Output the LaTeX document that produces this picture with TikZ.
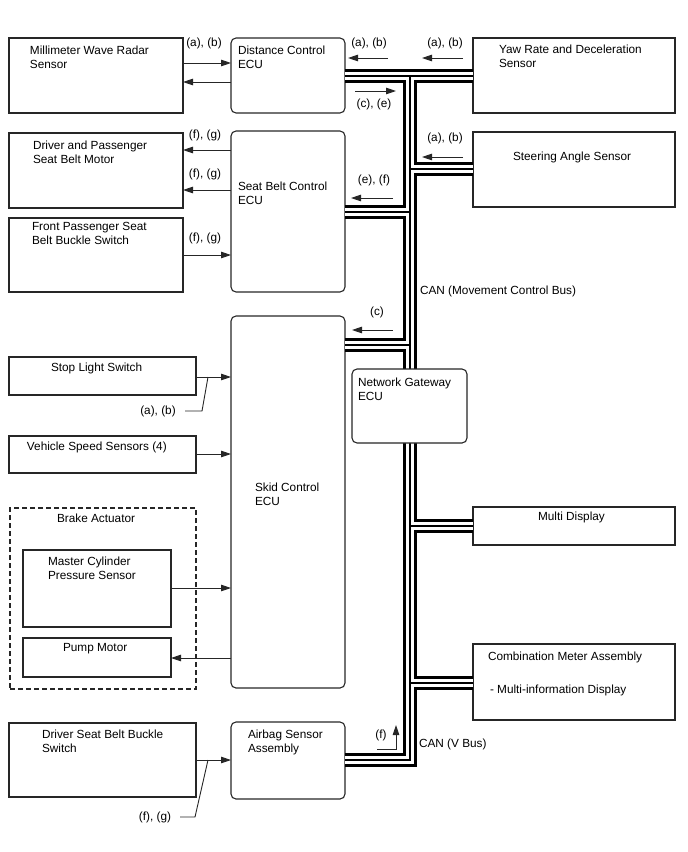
\documentclass[tikz,border=0pt]{standalone}
\usepackage{fontspec}
\setmainfont{Liberation Sans}
\usetikzlibrary{arrows.meta,calc}
\begin{document}
\begin{tikzpicture}[x=1pt,y=-1pt,
  every node/.style={font=\fontsize{11.8}{14}\selectfont, inner sep=0pt, outer sep=0pt},
  sbox/.style={draw=black!85, line width=1.1pt, rectangle, anchor=north west},
  ecu/.style={sbox, rounded corners=5pt},
  dbox/.style={sbox, dashed, dash pattern=on 5pt off 3pt},
  txt/.style={anchor=base west, align=left},
  lbl/.style={anchor=center},
  arr/.style={-{Triangle[length=10pt,width=6.5pt]}, line width=0.9pt, draw=black!85},
  wire/.style={line width=0.9pt, draw=black!85},
  busA/.style={line width=13.5pt, black},
  busB/.style={line width=7.5pt, white},
  busC/.style={line width=1.1pt, black}]
\useasboundingbox (0,0) rectangle (688,852);
% ---------- boxes ----------
\node[sbox, minimum width=174, minimum height=75] (mwr) at (9,38) {};
\node[ecu,  minimum width=114, minimum height=75] (dce) at (231,38) {};
\node[sbox, minimum width=202, minimum height=75] (yaw) at (473,38) {};
\node[sbox, minimum width=174, minimum height=75] (dpm) at (9,133) {};
\node[ecu,  minimum width=114, minimum height=161] (sbc) at (231,131) {};
\node[sbox, minimum width=202, minimum height=75] (sas) at (473,132) {};
\node[sbox, minimum width=174, minimum height=74] (fps) at (9,218) {};
\node[sbox, minimum width=187, minimum height=38] (sls) at (9,357) {};
\node[ecu,  minimum width=114, minimum height=372] (skid) at (231,316) {};
\node[sbox, minimum width=187, minimum height=37] (vss) at (9,436) {};
\node[dbox, minimum width=186, minimum height=181] (ba) at (10,508) {};
\node[sbox, minimum width=148, minimum height=77] (mcps) at (23,550) {};
\node[sbox, minimum width=148, minimum height=39] (pm) at (23,638) {};
\node[sbox, minimum width=202, minimum height=38] (md) at (473,507) {};
\node[sbox, minimum width=202, minimum height=76] (cm) at (473,644) {};
\node[sbox, minimum width=187, minimum height=74] (dsb) at (9,723) {};
\node[ecu,  minimum width=114, minimum height=77] (air) at (231,722) {};
% ---------- bus ----------
\coordinate (bt) at (410,76);
\coordinate (bc) at (410,760);
\coordinate (j1) at (410,169);
\coordinate (j2) at (410,212);
\coordinate (j3) at (410,345);
\coordinate (j4) at (410,526);
\coordinate (j5) at (410,683);
\foreach \st in {busA,busB,busC}{
  \draw[\st] (dce.east |- bt) -- (yaw.west |- bt);
  \draw[\st, line join=miter] (bt) -- (bc) -- (air.east |- bc);
  \draw[\st] (j1) -- (sas.west |- j1);
  \draw[\st] (sbc.east |- j2) -- (j2);
  \draw[\st] (skid.east |- j3) -- (j3);
  \draw[\st] (j4) -- (md.west |- j4);
  \draw[\st] (j5) -- (cm.west |- j5);
}
\node[ecu, fill=white, minimum width=115, minimum height=74] (gw) at (352,369) {};
% ---------- texts in boxes (base = last line) ----------
\node[txt] (mwrT) at (30,68) {Millimeter Wave Radar\\Sensor};
\node[txt] (dceT) at (238,68) {Distance Control\\ECU};
\node[txt] (yawT) at (499,67) {Yaw Rate and Deceleration\\Sensor};
\node[txt] (dpmT) at (33,163) {Driver and Passenger\\Seat Belt Motor};
\node[txt] (sbcT) at (238,204) {Seat Belt Control\\ECU};
\node[txt] (sasT) at (513,160) {Steering Angle Sensor};
\node[txt] (fpsT) at (32,244) {Front Passenger Seat\\Belt Buckle Switch};
\node[txt] (slsT) at (51,371) {Stop Light Switch};
\node[txt] (gwT) at (358,400) {Network Gateway\\ECU};
\node[txt] (vssT) at (27,450) {Vehicle Speed Sensors (4)};
\node[txt] (skidT) at (255,505) {Skid Control\\ECU};
\node[txt] (baT) at (57,522) {Brake Actuator};
\node[txt] (mdT) at (538,520) {Multi Display};
\node[txt] (mcpsT) at (48,579) {Master Cylinder\\Pressure Sensor};
\node[txt] (pmT) at (63,651) {Pump Motor};
\node[txt] (cmT) at (488,660) {Combination Meter Assembly};
\node[txt] (cmT2) at (490,693) {- Multi-information Display};
\node[txt] (dsbT) at (42,752) {Driver Seat Belt Buckle\\Switch};
\node[txt] (airT) at (248,752) {Airbag Sensor\\Assembly};
% ---------- wire arrows ----------
\draw[arr] (mwr.east |- 0,63) -- (dce.west |- 0,63);
\draw[arr] (dce.west |- 0,82) -- (mwr.east |- 0,82);
\draw[arr] (sbc.west |- 0,150) -- (dpm.east |- 0,150);
\draw[arr] (sbc.west |- 0,190) -- (dpm.east |- 0,190);
\draw[arr] (fps.east |- 0,255) -- (sbc.west |- 0,255);
\draw[arr] (sls.east |- 0,377) -- (skid.west |- 0,377);
\draw[arr] (vss.east |- 0,454) -- (skid.west |- 0,454);
\draw[arr] (mcps.east |- 0,588) -- (skid.west |- 0,588);
\draw[arr] (skid.west |- 0,658) -- (pm.east |- 0,658);
\draw[arr] (dsb.east |- 0,760) -- (air.west |- 0,760);
% leaders
\coordinate (ld1) at (208,377);
\coordinate (ld2) at (208,760);
\draw[wire] (ld1) -- (202,411) -- (185,411);
\draw[wire] (ld2) -- (195,817) -- (180,817);
% ---------- labels ----------
\node[lbl] (l1) at (204,43) {(a), (b)};
\node[lbl] (l2) at (369,43) {(a), (b)};
\node[lbl] (l3) at (445,43) {(a), (b)};
\node[lbl] (l4) at (374,104) {(c), (e)};
\node[lbl] (l5) at (445,138) {(a), (b)};
\node[lbl] (l6) at (205,135) {(f), (g)};
\node[lbl] (l7) at (205,174) {(f), (g)};
\node[lbl] (l8) at (374,180) {(e), (f)};
\node[lbl] (l9) at (205,238) {(f), (g)};
\node[lbl] (l10) at (377,312) {(c)};
\node[lbl] (l11) at (158,411) {(a), (b)};
\node[lbl] (l12) at (155,817) {(f), (g)};
\node[lbl] (l13) at (381,735) {(f)};
\node[txt] (can1) at (420,294) {CAN (Movement Control Bus)};
\node[txt] (can2) at (419,747) {CAN (V Bus)};
% ---------- bus direction arrows ----------
\draw[arr] (388,58) -- (348,58);
\draw[arr] (463,58) -- (422,58);
\draw[arr] (355,91) -- (396,91);
\draw[arr] (463,157) -- (422,157);
\draw[arr] (393,198) -- (351,198);
\draw[arr] (393,330) -- (352,330);
\draw[arr] (377,749) -- (396,749) -- (396,725);
\end{tikzpicture}
\end{document}
